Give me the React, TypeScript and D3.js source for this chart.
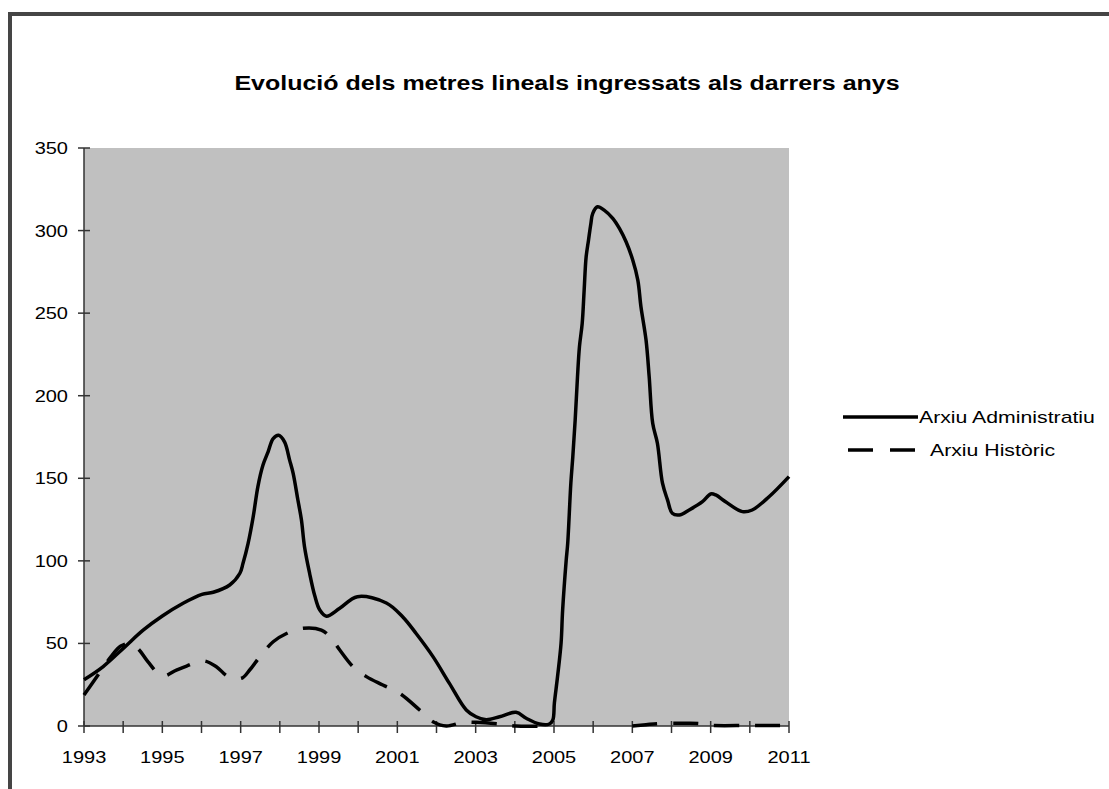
import React, { useEffect, useRef } from 'react';
import * as d3 from 'd3';

// Arxiu Administratiu (solid) - decimal year / metres
const adminYears = [
  1993.0, 1993.49, 1994.03, 1994.51, 1995.0, 1995.53, 1996.01, 1996.3, 1996.72, 1996.98,
  1997.06, 1997.19, 1997.32, 1997.44, 1997.57, 1997.7, 1997.83, 1997.97, 1998.12, 1998.25,
  1998.34, 1998.46, 1998.55, 1998.63, 1998.76, 1998.89, 1999.02, 1999.19, 1999.53, 1999.98,
  2000.72, 2001.14, 2001.48, 2001.91, 2002.33, 2002.76, 2003.01, 2003.27, 2003.61, 2004.03,
  2004.29, 2004.63, 2004.88, 2004.97, 2005.01, 2005.09, 2005.18, 2005.22, 2005.31, 2005.35,
  2005.43, 2005.48, 2005.54, 2005.6, 2005.65, 2005.72, 2005.77, 2005.82, 2005.88, 2005.94,
  2005.99, 2006.11, 2006.28, 2006.5, 2006.67, 2006.84, 2007.01, 2007.14, 2007.22, 2007.35,
  2007.43, 2007.52, 2007.64, 2007.77, 2007.9, 2008.02, 2008.2, 2008.45, 2008.79, 2009.0,
  2009.13, 2009.38, 2009.81, 2010.06, 2010.49, 2011.0,
];
const adminValues = [
  28, 36, 47.6, 58, 66.6, 74.3, 79.7, 81, 85.4, 92.5,
  98.5, 110.6, 126.7, 145, 158, 166, 174, 176, 172, 161,
  153, 137, 125, 108.6, 92.5, 79, 70.2, 66.5, 71.3, 78.3,
  74.5, 66, 56, 42, 25.8, 9.7, 5.6, 3.8, 5.6, 8.3,
  4.7, 1.2, 1.2, 3.6, 14, 29.8, 50, 70, 100, 110.6,
  147, 163, 185, 211.5, 229.7, 243.8, 264, 284, 294, 304,
  310.4, 314.4, 312.4, 307.4, 301.3, 293.2, 282.2, 270, 253.9, 233.7,
  211.5, 183.3, 171.2, 147, 136.8, 128.8, 127.8, 130.8, 135.8, 140.5,
  139.9, 135.8, 129.8, 130.8, 138.8, 151,
];

// Arxiu Històric (dashed) - no data between 2005 and 2007
const histYears = [
  1993.0, 1993.39, 1993.69, 1993.94, 1994.2, 1994.41, 1994.63, 1995.0, 1995.36, 1995.62,
  1996.04, 1996.38, 1996.68, 1997.02, 1997.23, 1997.49, 1997.83, 1998.17, 1998.59, 1999.06,
  1999.31, 1999.53, 1999.87, 2000.21, 2000.63, 2001.06, 2001.57, 2001.91, 2002.25, 2002.67,
  2003.01, 2003.61, 2004.03, 2004.9, 2006.0, 2007.0, 2007.35, 2007.7, 2008.2, 2008.7,
  2009.0, 2010.0, 2011.0,
];
const histValues = [
  18.8, 31.9, 42, 48.4, 50, 46, 39, 30.3, 33.9, 36.3,
  39.5, 35.9, 29.9, 28.9, 33.9, 42, 51, 56, 59.2, 58.1,
  53.1, 46, 35.9, 29.9, 24.8, 19.8, 9.7, 2.6, 0, 2.2,
  2.2, 1.2, 0, 0, NaN, 0, 0.8, 1.5, 1.6, 1.5,
  0.4, 0.3, 0.3,
];

const yearTicks = d3.range(1993, 2012);
const xLabels = [1993, 1995, 1997, 1999, 2001, 2003, 2005, 2007, 2009, 2011];
const yTicks = [0, 50, 100, 150, 200, 250, 300, 350];

const title = 'Evolució dels metres lineals ingressats als darrers anys';
const seriesNames = ['Arxiu Administratiu', 'Arxiu Històric'];

const W = 1109;
const H = 789;
const FONT = '"Liberation Sans", Arial, sans-serif';
const SX = 1.25; // text in the original is stretched horizontally

const App = () => {
  const svgRef = useRef<SVGSVGElement | null>(null);

  useEffect(() => {
    const svg = d3.select(svgRef.current);
    svg.selectAll('*').remove();

    const x = d3.scaleLinear().domain([1993, 2011]).range([84, 789]);
    const y = d3.scaleLinear().domain([0, 350]).range([726, 148]);

    // outer frame (runs off the right and bottom edges)
    svg.append('rect')
      .attr('x', 10).attr('y', 14)
      .attr('width', W + 20).attr('height', H + 20)
      .attr('fill', '#fff')
      .attr('stroke', '#454545')
      .attr('stroke-width', 4);

    // title
    svg.append('text')
      .attr('transform', `translate(567,90) scale(${SX},1)`)
      .attr('text-anchor', 'middle')
      .attr('font-family', FONT)
      .attr('font-size', 20)
      .attr('font-weight', 'bold')
      .attr('fill', '#000')
      .text(title);

    // plot area
    svg.append('rect')
      .attr('x', x(1993)).attr('y', y(350))
      .attr('width', x(2011) - x(1993))
      .attr('height', y(0) - y(350))
      .attr('fill', '#c0c0c0');

    const admin = adminYears.map((yr, i) => ({ yr, v: adminValues[i] }));
    const hist = histYears.map((yr, i) => ({ yr, v: histValues[i] }));

    const line = d3.line<{ yr: number; v: number }>()
      .defined(d => !isNaN(d.v))
      .x(d => x(d.yr))
      .y(d => y(d.v))
      .curve(d3.curveCatmullRom.alpha(0.5));

    // axes
    const axis = svg.append('g').attr('stroke', '#333').attr('stroke-width', 1.5);
    axis.append('line')
      .attr('x1', x(1993)).attr('x2', x(1993))
      .attr('y1', y(350)).attr('y2', y(0));
    axis.append('line')
      .attr('x1', x(1993)).attr('x2', x(2011))
      .attr('y1', y(0)).attr('y2', y(0));

    yTicks.forEach(t => {
      axis.append('line')
        .attr('x1', x(1993) - 6).attr('x2', x(1993) + 6)
        .attr('y1', y(t)).attr('y2', y(t));
      svg.append('text')
        .attr('transform', `translate(${x(1993) - 16},${y(t) + 6}) scale(${SX},1)`)
        .attr('text-anchor', 'end')
        .attr('font-family', FONT)
        .attr('font-size', 16)
        .attr('fill', '#000')
        .text(t);
    });

    yearTicks.forEach(t => {
      axis.append('line')
        .attr('x1', x(t)).attr('x2', x(t))
        .attr('y1', y(0) - 5).attr('y2', y(0) + 7);
    });

    xLabels.forEach(t => {
      svg.append('text')
        .attr('transform', `translate(${x(t)},${y(0) + 37}) scale(${SX},1)`)
        .attr('text-anchor', 'middle')
        .attr('font-family', FONT)
        .attr('font-size', 16)
        .attr('fill', '#000')
        .text(t);
    });

    // series
    svg.append('path')
      .datum(hist)
      .attr('d', line)
      .attr('fill', 'none')
      .attr('stroke', '#000')
      .attr('stroke-width', 3.5)
      .attr('stroke-dasharray', '25 16');

    svg.append('path')
      .datum(admin)
      .attr('d', line)
      .attr('fill', 'none')
      .attr('stroke', '#000')
      .attr('stroke-width', 3.5)
      .attr('stroke-linejoin', 'round');

    // legend
    const legend = svg.append('g');
    legend.append('line')
      .attr('x1', 843).attr('x2', 918)
      .attr('y1', 417).attr('y2', 417)
      .attr('stroke', '#000').attr('stroke-width', 3.5);
    legend.append('text')
      .attr('transform', `translate(919,423) scale(${SX},1)`)
      .attr('font-family', FONT)
      .attr('font-size', 17)
      .attr('fill', '#000')
      .text(seriesNames[0]);

    legend.append('line')
      .attr('x1', 848).attr('x2', 917)
      .attr('y1', 450).attr('y2', 450)
      .attr('stroke', '#000').attr('stroke-width', 3.5)
      .attr('stroke-dasharray', '25 17');
    legend.append('text')
      .attr('transform', `translate(930,456) scale(${SX},1)`)
      .attr('font-family', FONT)
      .attr('font-size', 17)
      .attr('fill', '#000')
      .text(seriesNames[1]);
  }, []);

  return (
    <svg
      ref={svgRef}
      width={W}
      height={H}
      style={{ position: 'absolute', left: 0, top: 0, display: 'block', background: '#fff' }}
    />
  );
};

export default App;
